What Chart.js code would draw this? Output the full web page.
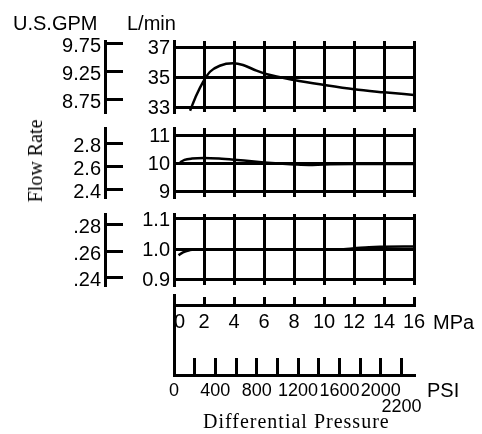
<!DOCTYPE html>
<html>
<head>
<meta charset="utf-8">
<script src="https://cdn.jsdelivr.net/npm/chart.js@4.4.1/dist/chart.umd.min.js"></script>
<style>
  body { margin: 0; background: #fff; }
  #wrap { position: relative; width: 482px; height: 434px; overflow: hidden; }
  #wrap canvas { position: absolute; left: 0; top: 0; }
  .txt { position: absolute; font-family: "Liberation Sans", Arial, sans-serif; font-size: 20px; line-height: 20px; color: #000; white-space: nowrap; }
  .serif { font-family: "Liberation Serif", "Times New Roman", serif; }
</style>
</head>
<body>
<div id="wrap">
  <canvas id="top" width="482" height="434"></canvas>
  <canvas id="mid" width="482" height="434"></canvas>
  <canvas id="low" width="482" height="434"></canvas>
  <canvas id="axes" width="482" height="434"></canvas>
  <div class="txt" style="left:13px;top:13px;">U.S.GPM</div>
  <div class="txt" style="left:127px;top:13px;">L/min</div>
  <div class="txt" style="left:433px;top:312px;">MPa</div>
  <div class="txt" style="left:427px;top:380px;">PSI</div>
  <div class="txt serif" style="left:203px;top:411px;letter-spacing:1px;">Differential Pressure</div>
  <div class="txt serif" style="left:35px;top:161px;transform:translate(-50%,-50%) rotate(-90deg);">Flow Rate</div>
</div>
<script>
// pressure axes
const mpaTicks = [0, 2, 4, 6, 8, 10, 12, 14, 16];
const mpaLabels = ['  0', '2', '4', '6', '8', '10', '12', '14', '16'];
const psiTicks = [0, 200, 400, 600, 800, 1000, 1200, 1400, 1600, 1800, 2000, 2200];
const psiLabels = ['0', '', '400', '', '800', '', '1200', '', '1600', '', '2000', ['', '2200']];

// flow axes, L/min and U.S.GPM for each panel
const topLminTicks = [33, 35, 37];
const topLminLabels = ['33', '35', '37'];
const topGpmTicks = [8.75, 9.25, 9.75];
const topGpmLabels = ['8.75', '9.25', '9.75'];
const midLminTicks = [9, 10, 11];
const midLminLabels = ['9', '10', '11'];
const midGpmTicks = [2.4, 2.6, 2.8];
const midGpmLabels = ['2.4', '2.6', '2.8'];
const lowLminTicks = [0.9, 1.0, 1.1];
const lowLminLabels = ['0.9', '1.0', '1.1'];
const lowGpmTicks = [0.24, 0.26, 0.28];
const lowGpmLabels = ['.24', '.26', '.28'];

// curves (x = MPa, y = L/min)
const topPressure = [1.07, 1.5, 1.95, 2.4, 3.05, 3.95, 4.6, 5.5, 6.2, 8, 10, 12, 14, 16];
const topFlow = [32.77, 33.82, 34.71, 35.37, 35.77, 35.93, 35.82, 35.44, 35.2, 34.82, 34.49, 34.2, 34.0, 33.82];
const midPressure = [0.4, 0.7, 1.2, 2, 3, 4, 5, 6, 7, 8, 9, 10, 12, 14, 16];
const midFlow = [10.02, 10.11, 10.16, 10.18, 10.16, 10.12, 10.07, 10.02, 9.98, 9.95, 9.93, 9.95, 9.96, 9.96, 9.96];
const lowPressure = [0.3, 0.6, 1.07, 1.5, 2, 4, 6, 8, 10, 11, 12, 13, 14, 16];
const lowFlow = [0.98, 0.99, 0.997, 1.0, 1.0, 1.0, 1.0, 1.0, 1.0, 1.0, 1.003, 1.007, 1.008, 1.009];

Chart.defaults.font.family = '"Liberation Sans", Arial, sans-serif';
Chart.defaults.color = '#000';

function setTicks(list) {
  return (s) => { s.ticks = list.map(v => ({ value: v })); };
}

function panel(id, area, lmin, gpm, pressure, flow) {
  new Chart(document.getElementById(id), {
    type: 'line',
    data: {
      datasets: [{
        data: pressure.map((p, i) => ({ x: p, y: flow[i] })),
        borderColor: '#000',
        borderWidth: 2.5,
        pointRadius: 0,
        cubicInterpolationMode: 'monotone',
        yAxisID: 'y'
      }]
    },
    options: {
      responsive: false,
      animation: false,
      layout: { padding: { left: 0, right: 68, top: area[0], bottom: 434 - area[1] } },
      plugins: { legend: { display: false }, tooltip: { enabled: false } },
      scales: {
        x: {
          type: 'linear', min: 0, max: 16,
          afterBuildTicks: setTicks(mpaTicks),
          afterFit: (s) => { s.height = 0; },
          ticks: { display: false },
          grid: { color: '#000', lineWidth: 3, drawTicks: false },
          border: { display: false }
        },
        y: {
          type: 'linear', position: 'left', weight: 0,
          min: lmin.min, max: lmin.max,
          afterBuildTicks: setTicks(lmin.ticks),
          afterFit: (s) => { s.width = 69; },
          ticks: { font: { size: 20 }, padding: 4, labelOffset: 1, callback: (v, i) => lmin.labels[i] },
          grid: { color: '#000', lineWidth: 3, drawTicks: false },
          border: { color: '#000', width: 3 }
        },
        gpm: {
          type: 'linear', position: 'left', weight: 1,
          min: gpm.min, max: gpm.max,
          afterBuildTicks: setTicks(gpm.ticks),
          afterFit: (s) => { s.width = 105; },
          ticks: { font: { size: 20 }, padding: 22, labelOffset: 3, callback: (v, i) => gpm.labels[i] },
          grid: { color: '#000', lineWidth: 3, drawOnChartArea: false, tickLength: -18 },
          border: { color: '#000', width: 3 }
        }
      }
    }
  });
}

panel('top', [41, 112],
  { min: 32.687, max: 37.42, ticks: topLminTicks, labels: topLminLabels },
  { min: 8.523, max: 9.791, ticks: topGpmTicks, labels: topGpmLabels },
  topPressure, topFlow);

panel('mid', [128, 197],
  { min: 8.786, max: 11.25, ticks: midLminTicks, labels: midLminLabels },
  { min: 2.3317, max: 2.9357, ticks: midGpmTicks, labels: midGpmLabels },
  midPressure, midFlow);

panel('low', [214, 285],
  { min: 0.8818, max: 1.1165, ticks: lowLminTicks, labels: lowLminLabels },
  { min: 0.2343, max: 0.2881, ticks: lowGpmTicks, labels: lowGpmLabels },
  lowPressure, lowFlow);

// MPa and PSI scales below the panels
new Chart(document.getElementById('axes'), {
  type: 'line',
  data: { datasets: [] },
  options: {
    responsive: false,
    animation: false,
    layout: { padding: { left: 0, right: 68, top: 295, bottom: 0 } },
    plugins: { legend: { display: false }, tooltip: { enabled: false } },
    scales: {
      yPos: {
        type: 'linear', position: 'left', min: 0, max: 80, reverse: true,
        afterFit: (s) => { s.width = 174; },
        ticks: { display: false },
        grid: { display: false, drawTicks: false },
        border: { color: '#000', width: 3 }
      },
      mpa: {
        type: 'linear', axis: 'x', position: { yPos: 10 }, min: 0, max: 16,
        afterBuildTicks: setTicks(mpaTicks),
        ticks: { font: { size: 20 }, padding: 15.5, autoSkip: false, maxRotation: 0, callback: (v, i) => mpaLabels[i] },
        grid: { color: '#000', lineWidth: 3, drawOnChartArea: false, tickLength: -10 },
        border: { color: '#000', width: 3 }
      },
      psi: {
        type: 'linear', axis: 'x', position: 'bottom', min: 0, max: 2320.6,
        afterBuildTicks: setTicks(psiTicks),
        afterFit: (s) => { s.height = 59; },
        ticks: { font: { size: 18, lineHeight: 0.9 }, padding: 24.9, autoSkip: false, maxRotation: 0, callback: (v, i) => psiLabels[i] },
        grid: { color: '#000', lineWidth: 3, drawOnChartArea: false, tickLength: -17 },
        border: { color: '#000', width: 3 }
      }
    }
  }
});
</script>
</body>
</html>
